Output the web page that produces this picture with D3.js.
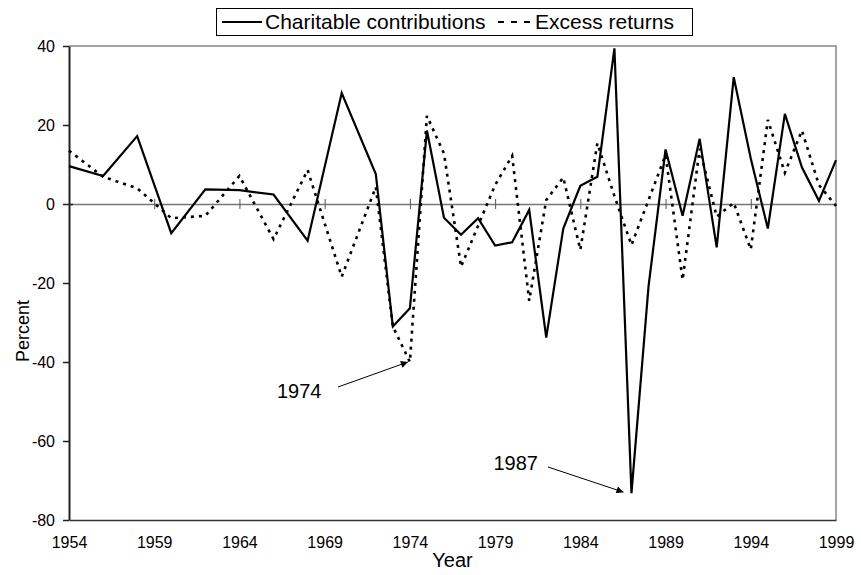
<!DOCTYPE html>
<html>
<head>
<meta charset="utf-8">
<script src="https://cdn.jsdelivr.net/npm/d3@7"></script>
<style>
  body { margin: 0; background: #fff; }
  svg { display: block; font-family: "Liberation Sans", Arial, sans-serif; }
  .axis text { font-size: 16px; fill: #000; }
</style>
</head>
<body>
<svg id="chart" width="861" height="575"></svg>
<script>
const years = [1954, 1956, 1958, 1960, 1962, 1964, 1966, 1968, 1970, 1972,
  1973, 1974, 1975, 1976, 1977, 1978, 1979, 1980, 1981, 1982, 1983, 1984, 1985,
  1986, 1987, 1988, 1989, 1990, 1991, 1992, 1993, 1994, 1995, 1996, 1997, 1998, 1999];

const charitable = [9.6, 7.1, 17.2, -7.4, 3.7, 3.5, 2.4, -9.3, 28.1, 7.6,
  -31.0, -26.4, 18.6, -3.5, -7.8, -3.6, -10.5, -9.7, -1.5, -33.8, -6.2, 4.6, 6.9,
  39.4, -73.2, -20.9, 13.8, -3.0, 16.5, -11.0, 32.1, 11.5, -6.2, 22.8, 9.3, 0.8, 11.1];

const excess = [13.5, 6.9, 4.0, -3.6, -3.0, 7.1, -8.9, 8.6, -18.4, 4.3,
  -31.0, -40.0, 22.3, 12.8, -15.9, -5.5, 4.8, 12.2, -24.5, 1.0, 6.7, -11.6, 15.4,
  2.0, -10.4, 1.0, 12.4, -19.2, 14.0, -3.2, 0.3, -11.5, 21.3, 7.9, 18.6, 4.8, -0.5];

const xTicks = [1954, 1959, 1964, 1969, 1974, 1979, 1984, 1989, 1994, 1999];
const yTicks = [40, 20, 0, -20, -40, -60, -80];

const seriesNames = ["Charitable contributions", "Excess returns"];

// callouts: label, the point the arrow goes to, where the label starts
const notes = [
  { label: "1974", year: 1974, value: -40.0, tx: 1966.2, ty: -49.0 },
  { label: "1987", year: 1987, value: -73.2, tx: 1978.9, ty: -67.3 }
];

const svg = d3.select("#chart");

const plotL = 69, plotR = 836, plotT = 46, plotB = 520;

const x = d3.scaleLinear().domain([1954, 1999]).range([plotL, plotR]);
const y = d3.scaleLinear().domain([-80, 40]).range([plotB, plotT]);

// frame: gray top and right edges
svg.append("path")
  .attr("d", `M${plotL},${plotT}H${plotR}V${plotB}`)
  .attr("fill", "none")
  .attr("stroke", "#888")
  .attr("stroke-width", 1.5);

// bottom axis (labels only)
const xAxis = svg.append("g")
  .attr("class", "axis")
  .attr("transform", `translate(0,${plotB})`)
  .call(d3.axisBottom(x).tickValues(xTicks).tickFormat(d => String(d))
    .tickSize(0).tickPadding(17));
xAxis.select(".domain").attr("stroke", "#333").attr("stroke-width", 1.5);

// zero line with crossing ticks
const zeroAxis = svg.append("g")
  .attr("transform", `translate(0,${y(0)})`)
  .call(d3.axisBottom(x).tickValues(xTicks.slice(1, -1)).tickFormat("")
    .tickSize(4).tickSizeOuter(0));
zeroAxis.select(".domain").attr("stroke", "#777").attr("stroke-width", 1.5);
zeroAxis.selectAll(".tick line").attr("y1", -5).attr("y2", 5).attr("stroke", "#555");

// left axis, plain hyphen for negatives
const yAxis = svg.append("g")
  .attr("class", "axis")
  .attr("transform", `translate(${plotL},0)`)
  .call(d3.axisLeft(y).tickValues(yTicks).tickFormat(d => String(d))
    .tickSize(6).tickPadding(8).tickSizeOuter(0));
yAxis.select(".domain").attr("stroke", "#222").attr("stroke-width", 2);
yAxis.selectAll(".tick line").attr("stroke", "#222").attr("stroke-width", 1.5);
yAxis.selectAll(".tick").filter(d => d === 0).select("line").attr("x2", -6).attr("x1", 4);

// series
const line = d3.line()
  .x((d, i) => x(years[i]))
  .y(d => y(d));

svg.append("path")
  .datum(excess)
  .attr("fill", "none")
  .attr("stroke", "#000")
  .attr("stroke-width", 2.6)
  .attr("stroke-dasharray", "3,5")
  .attr("d", line);

svg.append("path")
  .datum(charitable)
  .attr("fill", "none")
  .attr("stroke", "#000")
  .attr("stroke-width", 2.2)
  .attr("stroke-linejoin", "miter")
  .attr("d", line);

// arrows
svg.append("defs").append("marker")
  .attr("id", "head")
  .attr("viewBox", "0 0 10 10")
  .attr("refX", 10).attr("refY", 5)
  .attr("markerWidth", 9).attr("markerHeight", 7)
  .attr("markerUnits", "userSpaceOnUse")
  .attr("orient", "auto")
  .append("path")
  .attr("d", "M0,0L10,5L0,10z")
  .attr("fill", "#000");

const noteG = svg.append("g");
notes.forEach(n => {
  noteG.append("text")
    .attr("x", x(n.tx))
    .attr("y", y(n.ty))
    .attr("font-size", 20)
    .text(n.label);
});
noteG.append("line")
  .attr("x1", 338).attr("y1", 387)
  .attr("x2", x(notes[0].year) - 2).attr("y2", y(notes[0].value))
  .attr("stroke", "#000").attr("stroke-width", 1)
  .attr("marker-end", "url(#head)");
noteG.append("line")
  .attr("x1", 548).attr("y1", 467)
  .attr("x2", x(notes[1].year) - 8).attr("y2", y(notes[1].value) - 1)
  .attr("stroke", "#000").attr("stroke-width", 1)
  .attr("marker-end", "url(#head)");

// axis titles
svg.append("text")
  .attr("transform", `translate(29,${(plotT + plotB) / 2 + 48}) rotate(-90)`)
  .attr("text-anchor", "middle")
  .attr("font-size", 18)
  .text("Percent");

svg.append("text")
  .attr("x", (plotL + plotR) / 2)
  .attr("y", 567)
  .attr("text-anchor", "middle")
  .attr("font-size", 20)
  .text("Year");

// legend
const legend = svg.append("g");
legend.append("rect")
  .attr("x", 216.5).attr("y", 8.5)
  .attr("width", 476).attr("height", 27)
  .attr("fill", "#fff")
  .attr("stroke", "#000");
legend.append("line")
  .attr("x1", 222).attr("x2", 262).attr("y1", 22).attr("y2", 22)
  .attr("stroke", "#000").attr("stroke-width", 2);
legend.append("text")
  .attr("x", 265).attr("y", 29)
  .attr("font-size", 21)
  .text(seriesNames[0]);
legend.append("line")
  .attr("x1", 498).attr("x2", 531).attr("y1", 22).attr("y2", 22)
  .attr("stroke", "#000").attr("stroke-width", 2)
  .attr("stroke-dasharray", "6,7");
legend.append("text")
  .attr("x", 535).attr("y", 29)
  .attr("font-size", 21)
  .text(seriesNames[1]);
</script>
</body>
</html>
